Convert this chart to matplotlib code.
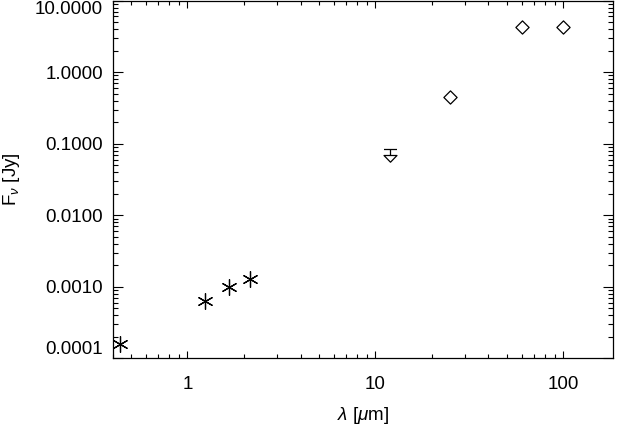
import matplotlib
matplotlib.use("Agg")
import matplotlib.pyplot as plt
from matplotlib.path import Path
from matplotlib.markers import MarkerStyle
from matplotlib.ticker import FixedLocator, LogLocator, NullFormatter

plt.rcParams['font.family'] = ['Liberation Sans', 'DejaVu Sans']
plt.rcParams['mathtext.fontset'] = 'custom'
plt.rcParams['mathtext.rm'] = 'Liberation Sans'
plt.rcParams['mathtext.it'] = 'Liberation Sans:italic'

# Data
phot_wl = [0.44, 1.235, 1.662, 2.159]
phot_flux = [1.57e-4, 6.4e-4, 1.0e-3, 1.28e-3]
iras_wl = [25, 60, 100]
iras_flux = [0.448, 4.24, 4.24]
ul_wl = [12]
ul_flux = [0.085]

xticks = [1, 10, 100]
xticklabels = ['1', '10', '100']
yticks = [1e-4, 1e-3, 1e-2, 1e-1, 1, 10]
yticklabels = ['0.0001', '0.0010', '0.0100', '0.1000', '1.0000', '10.0000']

W, H = 620, 426
fig = plt.figure(figsize=(W / 100, H / 100), dpi=100)
ax = fig.add_axes([112.7 / W, 67.6 / H, (613 - 112.7) / W, (358.4 - 0.6) / H])
ax.set_xscale('log')
ax.set_yscale('log')
ax.set_xlim(0.4, 184)
ax.set_ylim(1e-4, 10)

# markers
diamond = MarkerStyle(Path([(0, 1), (1, 0), (0, -1), (-1, 0), (0, 1)],
                           [Path.MOVETO, Path.LINETO, Path.LINETO, Path.LINETO, Path.CLOSEPOLY]))
ul_path = Path([(-6.5, 0), (6.5, 0), (0, 0), (0, -6),
                (-6.5, -6), (6.5, -6), (0, -12.7), (-6.5, -6)],
               [Path.MOVETO, Path.LINETO, Path.MOVETO, Path.LINETO,
                Path.MOVETO, Path.LINETO, Path.LINETO, Path.CLOSEPOLY])
ul_marker = MarkerStyle(ul_path)

ax.plot(phot_wl, phot_flux, linestyle='none', marker=(6, 2, 0), markersize=11.5,
        color='black', markeredgewidth=0.9)
ax.plot(iras_wl, iras_flux, linestyle='none', marker=diamond, markersize=9.5,
        markerfacecolor='none', markeredgecolor='black', markeredgewidth=0.9)
ax.plot(ul_wl, ul_flux, linestyle='none', marker=ul_marker, markersize=18.3,
        markerfacecolor='none', markeredgecolor='black', markeredgewidth=0.9)

ax.xaxis.set_major_locator(FixedLocator(xticks))
ax.set_xticklabels(xticklabels)
ax.xaxis.set_minor_locator(LogLocator(base=10, subs=range(2, 10)))
ax.xaxis.set_minor_formatter(NullFormatter())
ax.yaxis.set_major_locator(FixedLocator(yticks))
ax.set_yticklabels(yticklabels)
ax.yaxis.set_minor_locator(LogLocator(base=10, subs=range(2, 10)))
ax.yaxis.set_minor_formatter(NullFormatter())

ax.tick_params(which='both', direction='in', top=True, right=True, width=0.8,
               color='black', labelsize=13.5)
ax.tick_params(axis='x', which='major', length=5.0, pad=13)
ax.tick_params(axis='x', which='minor', length=2.6)
ax.tick_params(axis='y', which='major', length=7.2, pad=7)
ax.tick_params(axis='y', which='minor', length=3.6)

for s in ax.spines.values():
    s.set_linewidth(0.9)

yt = ax.yaxis.get_major_ticks()
yt[0].label1.set_va('bottom')
yt[-1].label1.set_va('top')

ax.set_xlabel(r'$\lambda$ [$\mu$m]', fontsize=13.5, labelpad=8)
ax.set_ylabel(r'F$_\nu$ [Jy]', fontsize=13.5, labelpad=9)

fig.savefig('out.png', dpi=100)
